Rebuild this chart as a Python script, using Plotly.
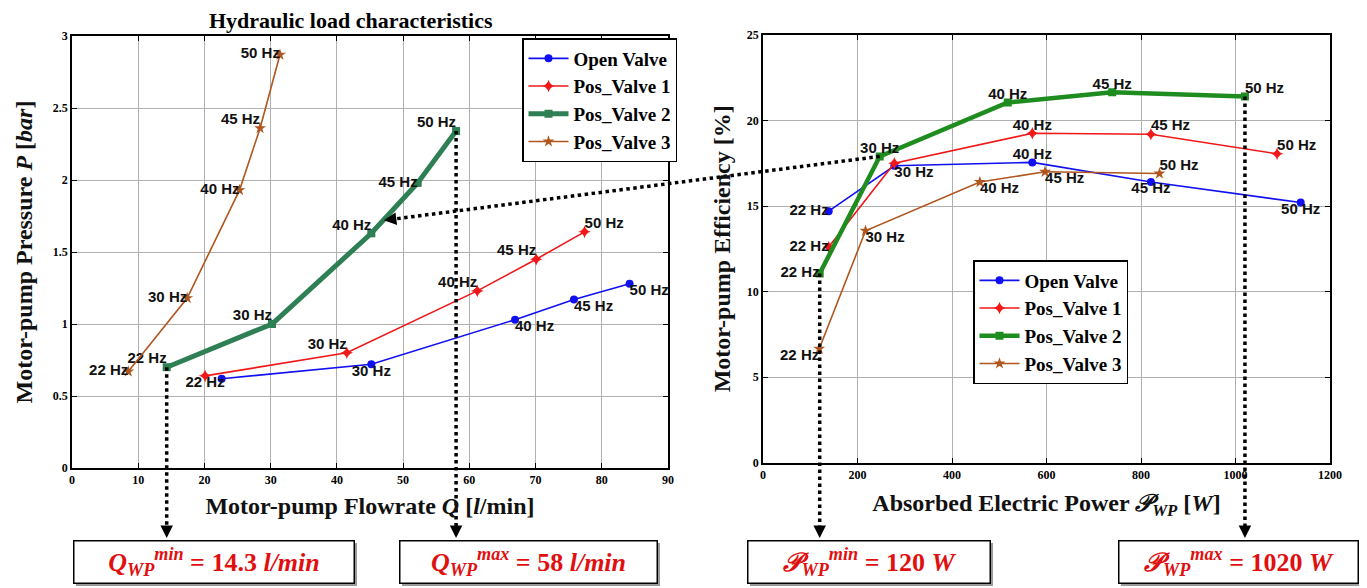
import plotly.graph_objects as go

# ---------------- data ----------------
freq = ["22 Hz", "30 Hz", "40 Hz", "45 Hz", "50 Hz"]
series = ["Open Valve", "Pos_Valve 1", "Pos_Valve 2", "Pos_Valve 3"]

# Hydraulic load characteristics: flowrate [l/min] vs pressure [bar]
q_open = [22.6, 45.2, 66.9, 75.8, 84.2]
p_open = [0.62, 0.72, 1.03, 1.17, 1.28]
q_v1 = [20.1, 41.5, 61.2, 70.1, 77.4]
p_v1 = [0.64, 0.80, 1.23, 1.45, 1.64]
q_v2 = [14.3, 30.2, 45.2, 52.2, 58.0]
p_v2 = [0.70, 1.00, 1.63, 1.98, 2.34]
q_v3 = [8.5, 17.4, 25.3, 28.4, 31.4]
p_v3 = [0.67, 1.18, 1.93, 2.36, 2.87]

# Efficiency: absorbed electric power [W] vs efficiency [%]
pw_open = [139, 278, 570, 821, 1138]
eff_open = [14.7, 17.35, 17.55, 16.4, 15.2]
pw_v1 = [139, 278, 570, 821, 1088]
eff_v1 = [12.6, 17.5, 19.25, 19.2, 18.05]
pw_v2 = [120, 247, 518, 739, 1020]
eff_v2 = [11.05, 17.9, 21.05, 21.65, 21.4]
pw_v3 = [119, 217, 459, 597, 839]
eff_v3 = [6.65, 13.55, 16.4, 17.0, 16.9]

# pointer target of the linking arrow on the left chart (flowrate, pressure)
link_target = [47.1, 1.72]

# ---------------- layout helpers ----------------
OFF = 8                      # page body margin
W, H = 1367 - OFF, 588 - OFF


def sx(px):
    return (px - OFF) / W


def sy(py):
    return 1 - (py - OFF) / H


L_X = [sx(72), sx(668)]
L_Y = [sy(468), sy(36)]
R_X = [sx(763), sx(1330)]
R_Y = [sy(462.5), sy(35)]
L_XR, L_YR = [0, 90], [0, 3]
R_XR, R_YR = [0, 1200], [0, 25]


def to_paper(v, dom, rng):
    return dom[0] + (v - rng[0]) / (rng[1] - rng[0]) * (dom[1] - dom[0])


SERIF = "Liberation Serif"
LBL = "Liberation Sans, Arial"

col_blue = "#1010F0"
col_red = "#F01818"
col_green_l = "#2F7F55"
col_green_r = "#1E8C1E"
col_brown = "#B0561E"

styles = [
    dict(color=col_blue, symbol="circle", size=8, width=1.6),
    dict(color=col_red, symbol="star-diamond", size=9, width=1.6),
    dict(color=None, symbol="square", size=8, width=5),
    dict(color=col_brown, symbol="star", size=9, width=1.6),
]

left_data = [(q_open, p_open), (q_v1, p_v1), (q_v2, p_v2), (q_v3, p_v3)]
right_data = [(pw_open, eff_open), (pw_v1, eff_v1), (pw_v2, eff_v2), (pw_v3, eff_v3)]

left_lbl = [
    ([0, 1, 1, 1, 1], ["bottom center", "bottom center", "bottom right", "bottom right", "bottom right"]),
    ([1, 1, 1, 1, 1], ["bottom center", "top left", "top left", "top left", "top right"]),
    ([1, 1, 1, 1, 1], ["top left", "top left", "top left", "middle left", "top left"]),
    ([1, 1, 1, 1, 1], ["middle left", "middle left", "middle left", "top left", "middle left"]),
]
right_lbl = [
    ([1, 1, 1, 1, 1], ["middle left", "bottom right", "top center", "bottom center", "bottom center"]),
    ([1, 0, 1, 1, 1], ["middle left", "top center", "top center", "top right", "top right"]),
    ([1, 1, 1, 1, 1], ["middle left", "top center", "top center", "top center", "top right"]),
    ([1, 1, 1, 1, 1], ["bottom left", "bottom right", "bottom right", "bottom right", "top right"]),
]

fig = go.Figure()

for side, data, lbls, xa, ya, leg in [
    ("L", left_data, left_lbl, "x", "y", "legend"),
    ("R", right_data, right_lbl, "x2", "y2", "legend2"),
]:
    for i, ((xs, ys), (mask, pos)) in enumerate(zip(data, lbls)):
        st = styles[i]
        c = st["color"]
        lw = st["width"]
        if i == 2:
            c = col_green_l if side == "L" else col_green_r
            lw = 5 if side == "L" else 4.5
        fig.add_trace(go.Scatter(
            x=xs, y=ys, mode="lines+markers", name=series[i],
            line=dict(color=c, width=lw),
            marker=dict(symbol=st["symbol"], size=st["size"], color=c),
            xaxis=xa, yaxis=ya, legend=leg, showlegend=True,
        ))
        fig.add_trace(go.Scatter(
            x=xs, y=ys, mode="text",
            text=[f if m else "" for f, m in zip(freq, mask)],
            textposition=pos,
            textfont=dict(family=LBL, size=15, color="#111111", weight="bold"),
            xaxis=xa, yaxis=ya, showlegend=False, hoverinfo="skip",
        ))

axis_common = dict(
    showline=True, linecolor="black", linewidth=1.6, mirror="ticks",
    ticks="inside", ticklen=5, tickcolor="black",
    showgrid=True, gridcolor="#b0b0b0", gridwidth=1, zeroline=False,
    tickfont=dict(family=SERIF, size=12, color="black", weight="bold"),
    automargin=False,
)
title_font = dict(family=SERIF, size=24, color="#111111", weight="bold")
legend_font = dict(family=SERIF, size=19, color="black", weight="bold")

fig.update_layout(
    width=W, height=H,
    margin=dict(l=0, r=0, t=0, b=0),
    paper_bgcolor="white", plot_bgcolor="white",
    xaxis=dict(domain=L_X, range=L_XR, dtick=10, anchor="y",
               title=dict(text="Motor-pump Flowrate <i>Q</i> [<i>l</i>/min]", font=title_font, standoff=11),
               **axis_common),
    yaxis=dict(domain=L_Y, range=L_YR, dtick=0.5, anchor="x",
               title=dict(text="Motor-pump Pressure <i>P</i> [<i>bar</i>]", font=title_font, standoff=13),
               **axis_common),
    xaxis2=dict(domain=R_X, range=R_XR, dtick=200, anchor="y2",
                title=dict(text="Absorbed Electric Power <i>𝒫<sub>WP</sub></i> [<i>W</i>]", font=title_font, standoff=13),
                **axis_common),
    yaxis2=dict(domain=R_Y, range=R_YR, dtick=5, anchor="x2",
                title=dict(text="Motor-pump Efficiency [%]", font=title_font, standoff=9),
                **axis_common),
    legend=dict(x=sx(522), y=sy(38), xanchor="left", yanchor="top",
                bordercolor="black", borderwidth=1.5, bgcolor="white",
                font=legend_font, tracegroupgap=0, itemwidth=40),
    legend2=dict(x=sx(973), y=sy(260), xanchor="left", yanchor="top",
                 bordercolor="black", borderwidth=1.5, bgcolor="white",
                 font=legend_font, tracegroupgap=0, itemwidth=40),
    showlegend=True,
)

annotations = [dict(
    text="<b>Hydraulic load characteristics</b>", x=sx(351), y=sy(21),
    xref="paper", yref="paper", showarrow=False, xanchor="center", yanchor="middle",
    font=dict(family=SERIF, size=22, color="black"),
)]
shapes = []

# bottom value boxes
box_top_px, box_bot_px = 540, 583
boxes = [
    (73, 354, "<i>Q<sub>WP</sub></i><sup><i>min</i></sup> = 14.3 <i>l/min</i>"),
    (399, 657, "<i>Q<sub>WP</sub></i><sup><i>max</i></sup> = 58 <i>l/min</i>"),
    (747, 990, "<i>𝒫<sub>WP</sub></i><sup><i>min</i></sup> = 120 <i>W</i>"),
    (1118, 1358, "<i>𝒫<sub>WP</sub></i><sup><i>max</i></sup> = 1020 <i>W</i>"),
]
for x0, x1, t in boxes:
    shapes.append(dict(type="rect", xref="paper", yref="paper",
                       x0=sx(x0 + 3), x1=sx(x1 + 3),
                       y0=sy(box_bot_px + 3), y1=sy(box_top_px + 3),
                       fillcolor="#9a9a9a", line=dict(width=0), layer="above"))
    annotations.append(dict(
        text="<b>" + t + "</b>", xref="paper", yref="paper",
        x=sx((x0 + x1) / 2), y=sy((box_top_px + box_bot_px) / 2),
        xanchor="center", yanchor="middle", showarrow=False,
        width=x1 - x0 - 4, height=box_bot_px - box_top_px - 4,
        bgcolor="white", bordercolor="black", borderwidth=1.5,
        font=dict(family=SERIF, size=26, color="#E01010"),
    ))

# dotted drop lines from the Pos_Valve 2 extremes
drops = [
    (to_paper(q_v2[0], L_X, L_XR), to_paper(p_v2[0], L_Y, L_YR)),
    (to_paper(q_v2[-1], L_X, L_XR), to_paper(p_v2[-1], L_Y, L_YR)),
    (to_paper(pw_v2[0], R_X, R_XR), to_paper(eff_v2[0], R_Y, R_YR)),
    (to_paper(pw_v2[-1], R_X, R_XR), to_paper(eff_v2[-1], R_Y, R_YR)),
]
tip_y = sy(538)
for xp, yp in drops:
    shapes.append(dict(type="line", xref="paper", yref="paper",
                       x0=xp, x1=xp, y0=yp, y1=tip_y + 10 / H,
                       line=dict(color="black", width=3.5, dash="dot")))
    annotations.append(dict(x=xp, y=tip_y, xref="paper", yref="paper",
                            ax=0, ay=-11, text="", showarrow=True,
                            arrowhead=2, arrowsize=1, arrowwidth=2.5, arrowcolor="black"))

# linking dotted arrow from right chart 30 Hz point to left chart
x_s = to_paper(pw_v2[1], R_X, R_XR)
y_s = to_paper(eff_v2[1], R_Y, R_YR)
x_e = to_paper(link_target[0], L_X, L_XR)
y_e = to_paper(link_target[1], L_Y, L_YR)
shapes.append(dict(type="line", xref="paper", yref="paper",
                   x0=x_s, y0=y_s, x1=x_e + 8 / W, y1=y_e + 1 / H,
                   line=dict(color="black", width=3.5, dash="dot")))
dxp = (x_s - x_e) * W
dyp = (y_s - y_e) * H
norm = (dxp ** 2 + dyp ** 2) ** 0.5
annotations.append(dict(x=x_e, y=y_e, xref="paper", yref="paper",
                        ax=12 * dxp / norm, ay=-12 * dyp / norm, text="", showarrow=True,
                        arrowhead=2, arrowsize=1, arrowwidth=2.5, arrowcolor="black"))

fig.update_layout(annotations=annotations, shapes=shapes)

fig.write_html("out.html")
